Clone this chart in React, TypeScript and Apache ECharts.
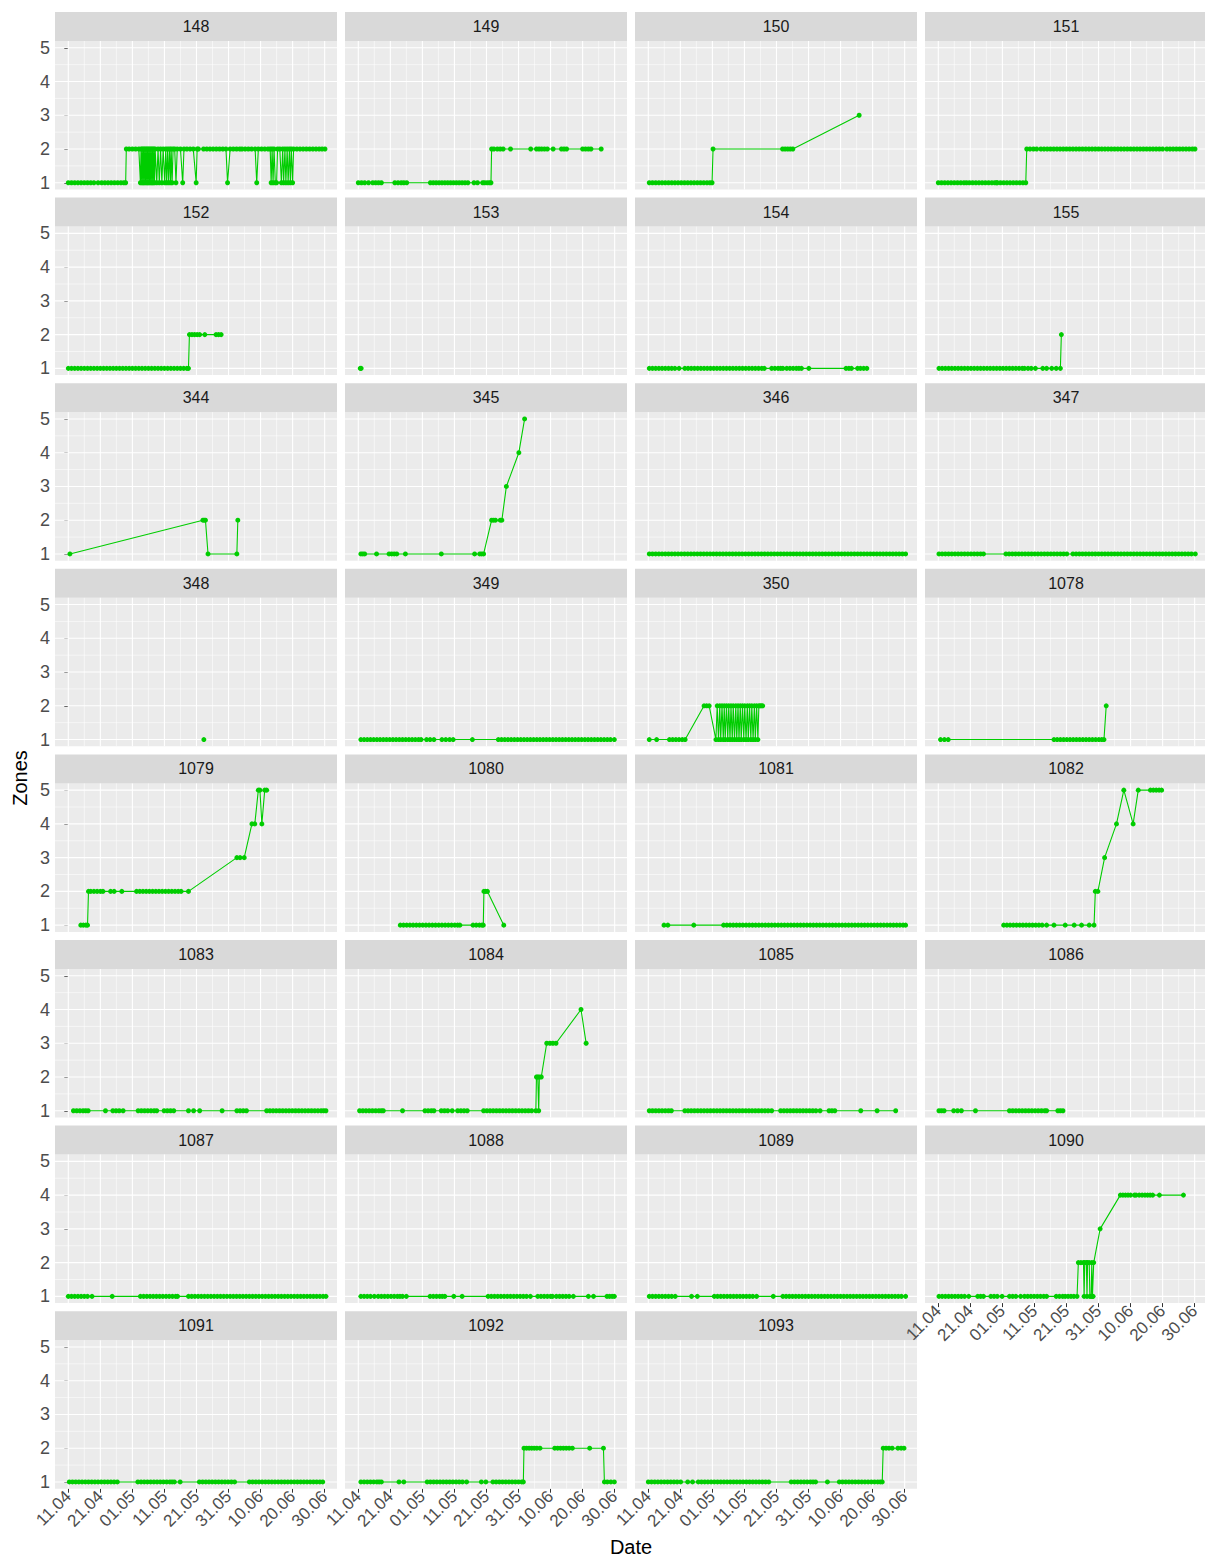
import React, { useEffect, useRef } from 'react';
import * as echarts from 'echarts';

// x values are days counted from 11.04 (day 0); y values are zones.
const PANEL_IDS = ['148', '149', '150', '151', '152', '153', '154', '155', '344', '345', '346', '347', '348', '349', '350', '1078', '1079', '1080', '1081', '1082', '1083', '1084', '1085', '1086', '1087', '1088', '1089', '1090', '1091', '1092', '1093'];
const TICK_DAYS = [0, 10, 20, 30, 40, 50, 60, 70, 80];
const TICK_LABELS = ['11.04', '21.04', '01.05', '11.05', '21.05', '31.05', '10.06', '20.06', '30.06'];
const MINOR_DAYS = [5, 15, 25, 35, 45, 55, 65, 75];
const ZONE_TICKS = [1, 2, 3, 4, 5];
const ZONE_MINOR = [1.5, 2.5, 3.5, 4.5];

type P = [number, number][];

const P148: P = [[0,1],[1,1],[2,1],[3,1],[4,1],[5,1],[6,1],[7,1],[8,1],[9.3,1],
[10.4,1],[11.4,1],[12.4,1],[13.4,1],[14.4,1],[15.4,1],[16.4,1],[17.3,1],[17.9,1],
[18.1,2],[19,2],[20,2],[21,2],[22,2],
[22.5,1],[22.7,2],[22.9,1],[23.1,2],[23.3,1],[23.5,2],[23.7,1],[23.9,2],[24.1,1],[24.3,2],[24.5,1],[24.7,2],[24.9,1],[25.1,2],[25.3,1],[25.5,2],[25.7,1],[25.9,2],[26.1,1],[26.3,2],[26.5,1],[26.7,2],[26.9,1],[27.1,2],
[27.6,1],[28,2],[28.4,1],[28.8,2],[29.2,1],[29.6,2],[30.1,1],[30.4,2],[30.7,1],[31,2],[31.3,1],[31.6,2],[31.9,1],[32.1,2],[32.4,1],[32.7,2],
[33.2,2],[33.6,1],[34,2],[35,2],[35.7,1],[36.1,2],[37,2],[38,2],[39,2],[39.9,1],[40.2,2],[40.6,2],
[42.2,2],[43.2,2],[44.2,2],[45.2,2],[46.2,2],[47.2,2],[48.2,2],[49.2,2],[49.7,1],[50.5,2],[51.5,2],[52.5,2],[53.5,2],
[54.2,2],[55.2,2],[56.2,2],[57.2,2],[58.3,2],[58.8,1],[59.3,2],[60.3,2],[61.3,2],[62.3,2],[63,2],[63.3,1],[63.6,2],[63.9,1],[64.2,2],[64.6,1],[65,1],[65.3,2],[66,2],[66.5,1],[66.9,2],[67.2,1],[67.6,2],[67.9,1],[68.3,2],[68.6,1],[69,2],[69.3,1],[69.6,2],[70,1],[70.3,2],[71.3,2],[72.3,2],[73.3,2],[74.3,2],[75.3,2],[76.3,2],[77.3,2],[78.3,2],[79.2,2],[80.1,2]];

const P149: P = [[0,1],[1,1],[2,1],[3.2,1],[4.5,1],[5.4,1],[6.3,1],[7.2,1],[11.4,1],[12.4,1],[13.4,1],[14.2,1],[15.1,1],[22.5,1],[23.4,1],[24.3,1],[25.2,1],[26.1,1],[27,1],[27.9,1],[28.8,1],[29.7,1],[30.6,1],[31.5,1],[32.4,1],[33.3,1],[34.2,1],[36.1,1],[37.2,1],[38.8,1],[39.4,1],[40.2,1],[40.9,1],[41.4,1],[41.6,2],[42.3,2],[43.4,2],[44.3,2],[45.2,2],[47.5,2],[53.8,2],[55.6,2],[56.4,2],[57.2,2],[58.1,2],[59,2],[60.8,2],[63.4,2],[64.2,2],[65,2],[70,2],[70.9,2],[71.8,2],[72.6,2],[75.8,2]];

const P150: P = [[0.3,1],[1.3,1],[2.3,1],[3.3,1],[4.3,1],[5.3,1],[6.3,1],[7.3,1],[8.3,1],[9.3,1],[10.3,1],[11.3,1],[12.3,1],[13.3,1],[14.3,1],[15.3,1],[16.3,1],[17.3,1],[18.3,1],[19.2,1],[19.9,1],[20.2,2],[41.9,2],[42.7,2],[43.5,2],[44.3,2],[45.1,2],[65.8,3]];

const P151: P = [[0,1],[1,1],[2,1],[3,1],[4,1],[5,1],[6,1],[7,1],[8,1],[8.8,1],[9.7,1],[10.7,1],[11.7,1],[12.7,1],[13.7,1],[14.7,1],[15.7,1],[16.7,1],[17.6,1],[18.2,1],[18.4,1],[19.4,1],[20.4,1],[21.4,1],[22.4,1],[23.4,1],[24.4,1],[25.4,1],[26.4,1],[27.3,1],
[27.6,2],[28.6,2],[29.7,2],[30.7,2],[32,2],[33,2],[34,2],[35,2],[36,2],[37,2],[38,2],[39,2],[40,2],[41,2],[42,2],[43,2],[44,2],[45,2],[46,2],[47,2],[48,2],[49,2],[50,2],[51,2],[52,2],[53,2],[54,2],[55,2],[56,2],[57,2],[58,2],[59,2],[60,2],[61,2],[62,2],[63,2],[64,2],[65,2],[66,2],[67,2],[68,2],[69,2],[70,2],[71.3,2],[72.3,2],[73.3,2],[74.3,2],[75.3,2],[76.3,2],[77.3,2],[78.3,2],[79.3,2],[80.1,2]];

const P152: P = [[0,1],[1,1],[2,1],[3,1],[4,1],[5,1],[6,1],[7,1],[8,1],[9,1],[10,1],[11,1],[12,1],[13,1],[14,1],[15,1],[16,1],[17,1],[18,1],[19,1],[20,1],[21,1],[22,1],[23,1],[24,1],[25,1],[26,1],[27,1],[28,1],[29,1],[30,1],[31,1],[32,1],[33,1],[34,1],[35,1],[36,1],[37,1],[37.5,1],[37.8,2],[38.6,2],[39.4,2],[40.2,2],[41,2],[42.6,2],[46.1,2],[46.9,2],[47.7,2]];

const P153: P = [[0.6,1],[0.9,1]];

const P154: P = [[0.3,1],[1.3,1],[2.3,1],[3.3,1],[4.3,1],[5.3,1],[6.3,1],[7.3,1],[8.3,1],[9.6,1],[11.4,1],[12.4,1],[13.4,1],[14.4,1],[15.4,1],[16.4,1],[17.4,1],[18.4,1],[19.4,1],[20.4,1],[21.4,1],[22.4,1],[23.4,1],[24.4,1],[25.4,1],[26.4,1],[27.4,1],[28.4,1],[29.4,1],[30.4,1],[31.4,1],[32.4,1],[33.4,1],[34.4,1],[35.4,1],[36.2,1],[38.5,1],[39.5,1],[40.5,1],[41.3,1],[42,1],[43.2,1],[44.2,1],[45.2,1],[46.2,1],[47,1],[47.8,1],[50.1,1],[61.7,1],[62.6,1],[63.4,1],[65.3,1],[66.2,1],[67.2,1],[68.2,1]];

const P155: P = [[0.2,1],[1.2,1],[2.2,1],[3.2,1],[4.2,1],[5.2,1],[6.2,1],[7.2,1],[8.2,1],[9.2,1],[10.2,1],[11.2,1],[12.2,1],[13.2,1],[14.2,1],[15.2,1],[16.2,1],[17.2,1],[18.2,1],[19.2,1],[20.2,1],[21.2,1],[22.2,1],[23.2,1],[24.2,1],[25.2,1],[26.2,1],[26.9,1],[28,1],[29,1],[30.3,1],[32.6,1],[33.8,1],[35.4,1],[36.8,1],[38.1,1],[38.4,2]];

const P344: P = [[0.5,1],[42,2],[42.4,2],[42.8,2],[43.6,1],[52.6,1],[52.9,2]];

const P345: P = [[0.8,1],[1.4,1],[2,1],[5.7,1],[9.6,1],[10.4,1],[11.2,1],[12,1],[14.7,1],[25.9,1],[36.3,1],[37.9,1],[38.5,1],[39.1,1],[41.6,2],[42.2,2],[42.8,2],[44.3,2],[44.8,2],[46.2,3],[50.1,4],[51.9,5]];

const P346: P = [[0.3,1],[1.3,1],[2.3,1],[3.3,1],[4.3,1],[5.3,1],[6.3,1],[7.3,1],[8.3,1],[9.3,1],[10.3,1],[11.3,1],[12.3,1],[13.3,1],[14.3,1],[15.3,1],[16.3,1],[17.3,1],[18.3,1],[19.3,1],[20.3,1],[21.3,1],[22.3,1],[23.3,1],[24.3,1],[25.3,1],[26.3,1],[27.3,1],[28.3,1],[29.3,1],[30.3,1],[31.3,1],[32.3,1],[33.3,1],[34.3,1],[35.3,1],[36.3,1],[37.3,1],[38.3,1],[39.3,1],[40.3,1],[41.3,1],[42.3,1],[43.3,1],[44.3,1],[45.3,1],[46.3,1],[47.3,1],[48.3,1],[49.3,1],[50.3,1],[51.3,1],[52.3,1],[53.3,1],[54.3,1],[55.3,1],[56.3,1],[57.3,1],[58.3,1],[59.3,1],[60.3,1],[61.3,1],[62.3,1],[63.3,1],[64.3,1],[65.3,1],[66.3,1],[67.3,1],[68.3,1],[69.3,1],[70.3,1],[71.3,1],[72.3,1],[73.3,1],[74.3,1],[75.3,1],[76.3,1],[77.3,1],[78.3,1],[79.3,1],[80.3,1]];

const P347: P = [[0.2,1],[1.2,1],[2.2,1],[3.2,1],[4.2,1],[5.2,1],[6.2,1],[7.2,1],[8.2,1],[9.2,1],[10.2,1],[11.2,1],[12.2,1],[13.2,1],[14.1,1],[21.1,1],[22.1,1],[23.1,1],[24.1,1],[25.1,1],[26.1,1],[27.1,1],[28.1,1],[29.1,1],[30.1,1],[31.1,1],[32.1,1],[33.1,1],[34.1,1],[35.1,1],[36.1,1],[37.1,1],[38.1,1],[39.1,1],[40.1,1],[42,1],[43,1],[44,1],[45,1],[46,1],[47,1],[48,1],[49,1],[50,1],[51,1],[52,1],[53,1],[54,1],[55,1],[56,1],[57,1],[58,1],[59,1],[60,1],[61,1],[62,1],[63,1],[64,1],[65,1],[66,1],[67,1],[68,1],[69,1],[70,1],[71,1],[72,1],[73,1],[74,1],[75,1],[76,1],[77,1],[78,1],[79,1],[80.2,1]];

const P348: P = [[42.3,1]];

const P349: P = [[0.8,1],[1.8,1],[2.8,1],[3.8,1],[4.8,1],[5.8,1],[6.8,1],[7.8,1],[8.8,1],[9.8,1],[10.8,1],[11.8,1],[12.8,1],[13.8,1],[14.8,1],[15.8,1],[16.8,1],[17.8,1],[18.8,1],[19.6,1],[21.3,1],[22.4,1],[23.6,1],[26.1,1],[27.3,1],[28.5,1],[29.6,1],[35.6,1],[43.7,1],[44.7,1],[45.7,1],[46.7,1],[47.7,1],[48.7,1],[49.7,1],[50.7,1],[51.7,1],[52.7,1],[53.7,1],[54.7,1],[55.7,1],[56.7,1],[57.7,1],[58.7,1],[59.7,1],[60.7,1],[61.7,1],[62.7,1],[63.7,1],[64.7,1],[65.7,1],[66.7,1],[67.7,1],[68.7,1],[69.7,1],[70.7,1],[71.7,1],[72.7,1],[73.7,1],[74.7,1],[75.7,1],[76.7,1],[77.7,1],[78.7,1],[79.9,1]];

const P350: P = [[0.3,1],[2.6,1],[6.6,1],[7.6,1],[8.6,1],[9.6,1],[10.6,1],[11.5,1],[17.4,2],[18.2,2],[19,2],[21.1,1],
[21.5,2],[21.9,1],[22.3,2],[22.6,1],[23,2],[23.4,1],[23.7,2],[24,1],[24.4,2],[24.8,1],[25.1,2],[25.5,1],[25.8,2],[26.2,1],[26.5,2],[26.9,1],[27.3,2],[27.6,1],[28,2],[28.3,1],[28.7,2],[29,1],[29.4,2],[29.8,1],[30.1,2],[30.5,1],[30.9,2],[31.2,1],[31.6,2],[32,1],[32.3,2],[32.7,1],[33.1,2],[33.4,1],[33.8,2],[34.2,1],[34.5,2],[34.9,2],[35.3,2],[35.7,2]];

const P1078: P = [[0.7,1],[1.9,1],[3.1,1],[36.1,1],[37.1,1],[38.1,1],[39.1,1],[40.1,1],[41.1,1],[42.1,1],[43.1,1],[44.1,1],[45.1,1],[46.1,1],[47.1,1],[48.1,1],[49.1,1],[50.1,1],[51,1],[51.7,1],[52.4,2]];

const P1079: P = [[3.9,1],[4.7,1],[5.5,1],[6,1],[6.3,2],[7,2],[8,2],[9,2],[10,2],[10.8,2],[13.2,2],[14.3,2],[16.7,2],[21.3,2],[22.3,2],[23.3,2],[24.3,2],[25.3,2],[26.3,2],[27.3,2],[28.3,2],[29.3,2],[30.3,2],[31.3,2],[32.3,2],[33.3,2],[34.3,2],[35.2,2],[37.5,2],[52.6,3],[53.6,3],[54.9,3],[57.3,4],[58.2,4],[59.3,5],[59.8,5],[60.4,4],[61.3,5],[61.9,5]];

const P1080: P = [[13.1,1],[14.1,1],[15.1,1],[16.1,1],[17.1,1],[18.1,1],[19.1,1],[20.1,1],[21.1,1],[22.1,1],[23.1,1],[24.1,1],[25.1,1],[26.1,1],[27.1,1],[28.1,1],[29.1,1],[30.1,1],[31,1],[31.7,1],[35.8,1],[36.8,1],[37.8,1],[38.6,1],[39,1],[39.2,2],[39.7,2],[40.3,2],[45.4,1]];

const P1081: P = [[4.9,1],[6.1,1],[14.2,1],[23.5,1],[24.5,1],[25.5,1],[26.5,1],[27.5,1],[28.5,1],[29.5,1],[30.5,1],[31.5,1],[32.5,1],[33.5,1],[34.5,1],[35.5,1],[36.5,1],[37.5,1],[38.5,1],[39.5,1],[40.5,1],[41.5,1],[42.5,1],[43.5,1],[44.5,1],[45.5,1],[46.5,1],[47.5,1],[48.5,1],[49.5,1],[50.5,1],[51.5,1],[52.5,1],[53.5,1],[54.5,1],[55.5,1],[56.5,1],[57.5,1],[58.5,1],[59.5,1],[60.5,1],[61.5,1],[62.5,1],[63.5,1],[64.5,1],[65.5,1],[66.5,1],[67.5,1],[68.5,1],[69.5,1],[70.5,1],[71.5,1],[72.5,1],[73.5,1],[74.5,1],[75.5,1],[76.5,1],[77.5,1],[78.5,1],[79.5,1],[80.3,1]];

const P1082: P = [[20.4,1],[21.4,1],[22.4,1],[23.4,1],[24.4,1],[25.4,1],[26.4,1],[27.4,1],[28.4,1],[29.4,1],[30.4,1],[31.4,1],[32.4,1],[33.8,1],[36.1,1],[39.6,1],[42.4,1],[44.7,1],[47.1,1],[48.6,1],[49,2],[49.8,2],[51.9,3],[55.6,4],[57.9,5],[60.8,4],[62.4,5],[66.2,5],[67.1,5],[68,5],[68.9,5],[69.7,5]];

const P1083: P = [[1.6,1],[2.6,1],[3.6,1],[4.6,1],[5.4,1],[6.2,1],[11.6,1],[13.9,1],[14.9,1],[15.9,1],[17.1,1],[21.8,1],[22.8,1],[23.8,1],[24.8,1],[25.8,1],[26.8,1],[27.6,1],[29.9,1],[30.9,1],[31.9,1],[32.9,1],[37.5,1],[39.1,1],[41,1],[48,1],[52.6,1],[53.6,1],[54.6,1],[55.6,1],[61.9,1],[62.9,1],[63.9,1],[64.9,1],[65.9,1],[66.9,1],[67.9,1],[68.9,1],[69.9,1],[70.9,1],[71.9,1],[72.9,1],[73.9,1],[74.9,1],[75.9,1],[76.9,1],[77.9,1],[78.9,1],[79.7,1],[80.4,1]];

const P1084: P = [[0.4,1],[1.4,1],[2.4,1],[3.4,1],[4.4,1],[5.4,1],[6.4,1],[7.2,1],[7.8,1],[13.8,1],[20.8,1],[21.8,1],[22.8,1],[23.6,1],[25.9,1],[26.9,1],[27.9,1],[29.3,1],[31,1],[32,1],[33,1],[34,1],[39.1,1],[40.1,1],[41.1,1],[42.1,1],[43.1,1],[44.1,1],[45.1,1],[46.1,1],[47.1,1],[48.1,1],[49.1,1],[50.1,1],[51.1,1],[52.1,1],[53.1,1],[54.1,1],[55.4,1],[55.6,2],[56,2],[56.3,1],[56.5,2],[57.1,2],[58.8,3],[59.8,3],[60.7,3],[61.7,3],[69.5,4],[71.1,3]];

const P1085: P = [[0.3,1],[1.3,1],[2.3,1],[3.3,1],[4.3,1],[5.3,1],[6.3,1],[7.2,1],[11.4,1],[12.4,1],[13.4,1],[14.4,1],[15.4,1],[16.4,1],[17.4,1],[18.4,1],[19.4,1],[20.4,1],[21.4,1],[22.4,1],[23.4,1],[24.4,1],[25.4,1],[26.4,1],[27.4,1],[28.4,1],[29.4,1],[30.4,1],[31.4,1],[32.4,1],[33.4,1],[34.4,1],[35.4,1],[36.4,1],[37.4,1],[38.5,1],[41.3,1],[42.3,1],[43.3,1],[44.3,1],[45.3,1],[46.3,1],[47.3,1],[48.3,1],[49.3,1],[50.3,1],[51.3,1],[52.3,1],[53.6,1],[56.4,1],[57.3,1],[58.2,1],[66.3,1],[71.4,1],[77.2,1]];

const P1086: P = [[0.2,1],[1,1],[1.8,1],[4.8,1],[6,1],[7.2,1],[11.6,1],[22.2,1],[23.2,1],[24.2,1],[25.2,1],[26.2,1],[27.2,1],[28.2,1],[29.2,1],[30.2,1],[31.2,1],[32.2,1],[33.2,1],[33.8,1],[37.3,1],[38.1,1],[38.9,1]];

const P1087: P = [[0,1],[1,1],[2,1],[3,1],[4,1],[5,1],[6,1],[7.4,1],[13.7,1],[22.5,1],[23.5,1],[24.5,1],[25.5,1],[26.5,1],[27.5,1],[28.5,1],[29.5,1],[30.5,1],[31.5,1],[32.5,1],[33.5,1],[34.1,1],[37.5,1],[38.5,1],[39.5,1],[40.5,1],[41.5,1],[42.5,1],[43.5,1],[44.5,1],[45.5,1],[46.5,1],[47.5,1],[48.5,1],[49.5,1],[50.5,1],[51.5,1],[52.5,1],[53.5,1],[54.5,1],[55.5,1],[56.5,1],[57.5,1],[58.5,1],[59.5,1],[60.5,1],[61.5,1],[62.5,1],[63.5,1],[64.5,1],[65.5,1],[66.5,1],[67.5,1],[68.5,1],[69.5,1],[70.5,1],[71.5,1],[72.5,1],[73.5,1],[74.5,1],[75.5,1],[76.5,1],[77.5,1],[78.5,1],[79.5,1],[80.4,1]];

const P1088: P = [[0.8,1],[1.8,1],[2.8,1],[3.8,1],[5,1],[6.2,1],[7.2,1],[8.2,1],[9.2,1],[10.2,1],[11.2,1],[12.2,1],[13,1],[13.8,1],[15,1],[22.4,1],[23.4,1],[24.4,1],[25.4,1],[26.2,1],[27,1],[29.8,1],[32.4,1],[40.5,1],[41.5,1],[42.5,1],[43.5,1],[44.5,1],[45.5,1],[46.5,1],[47.5,1],[48.5,1],[49.5,1],[50.5,1],[51.5,1],[52.5,1],[53.7,1],[56,1],[57,1],[58,1],[59,1],[60,1],[60.6,1],[61.8,1],[62.8,1],[63.8,1],[64.8,1],[65.8,1],[67.1,1],[71.8,1],[73.4,1],[77.6,1],[78.4,1],[79.2,1],[79.9,1]];

const P1089: P = [[0.3,1],[1.3,1],[2.3,1],[3.3,1],[4.3,1],[5.3,1],[6.3,1],[7.3,1],[8.4,1],[13.5,1],[15.3,1],[20.6,1],[21.6,1],[22.6,1],[23.6,1],[24.6,1],[25.6,1],[26.6,1],[27.6,1],[28.6,1],[29.6,1],[30.6,1],[31.6,1],[32.6,1],[33.8,1],[39,1],[42,1],[43,1],[44,1],[45,1],[46,1],[47,1],[48,1],[49,1],[50,1],[51,1],[52,1],[53,1],[54,1],[55,1],[56,1],[57,1],[58,1],[59,1],[60,1],[61,1],[62,1],[63,1],[64,1],[65,1],[66,1],[67,1],[68,1],[69,1],[70,1],[71,1],[72,1],[73,1],[74,1],[75,1],[76,1],[77,1],[78,1],[79,1],[80.3,1]];

const P1090: P = [[0.2,1],[1.2,1],[2.2,1],[3.2,1],[4.2,1],[5.2,1],[6.2,1],[7.2,1],[8.2,1],[9.5,1],[12.3,1],[13.2,1],[14.1,1],[16.4,1],[17.4,1],[18.4,1],[19.9,1],[22.2,1],[23.2,1],[24.2,1],[25.7,1],[26.9,1],[27.9,1],[28.9,1],[29.9,1],[30.9,1],[31.9,1],[32.9,1],[33.8,1],[36.8,1],[37.8,1],[38.8,1],[39.6,1],[40.5,1],[41.4,1],[42.3,1],[43.3,1],
[43.7,2],[44.5,2],[45.3,2],[45.5,1],[45.7,2],[46.2,2],[46.4,1],[46.6,2],[47.1,2],[47.3,1],[47.7,1],[47.9,2],[48.1,1],[48.3,1],[48.5,2],[50.5,3],[56.8,4],[57.6,4],[58.4,4],[59.2,4],[60,4],[61.2,4],[61.7,4],[62.7,4],[63.6,4],[64.5,4],[65.3,4],[66.1,4],[66.9,4],[69,4],[76.5,4]];

const P1091: P = [[0.3,1],[1.3,1],[2.3,1],[3.3,1],[4.3,1],[5.3,1],[6.3,1],[7.3,1],[8.3,1],[9.3,1],[10.3,1],[11.3,1],[12.3,1],[13.3,1],[14.3,1],[15.3,1],[21.7,1],[22.7,1],[23.7,1],[24.7,1],[25.7,1],[26.7,1],[27.7,1],[28.7,1],[29.7,1],[30.7,1],[31.7,1],[32.4,1],[33.1,1],[34.9,1],[40.9,1],[41.9,1],[42.9,1],[43.9,1],[44.9,1],[45.9,1],[46.9,1],[47.9,1],[48.9,1],[49.9,1],[50.9,1],[51.9,1],[56.5,1],[57.5,1],[58.5,1],[59.5,1],[60.5,1],[61.5,1],[62.5,1],[63.5,1],[64.5,1],[65.5,1],[66.5,1],[67.5,1],[68.5,1],[69.5,1],[70.5,1],[71.5,1],[72.5,1],[73.5,1],[74.5,1],[75.5,1],[76.5,1],[77.5,1],[78.5,1],[79.4,1]];

const P1092: P = [[0.8,1],[1.8,1],[2.8,1],[3.8,1],[4.8,1],[5.8,1],[6.5,1],[7.2,1],[12.7,1],[14.2,1],[21.5,1],[22.5,1],[23.5,1],[24.5,1],[25.5,1],[26.5,1],[27.5,1],[28.5,1],[29.5,1],[30.5,1],[31.5,1],[32.5,1],[33.8,1],[38.4,1],[39.8,1],[42,1],[43,1],[44,1],[45,1],[46,1],[47,1],[48,1],[49,1],[50,1],[51,1],[51.5,1],[51.7,2],[52.5,2],[53.3,2],[54.1,2],[54.9,2],[55.7,2],[56.7,2],[61.3,2],[62.2,2],[63.1,2],[64,2],[64.9,2],[65.8,2],[66.8,2],[72.2,2],[76.5,2],[76.8,1],[77.7,1],[78.8,1],[79.9,1]];

const P1093: P = [[0,1],[1,1],[2,1],[3,1],[4,1],[5,1],[6,1],[7,1],[8,1],[9,1],[10.1,1],[12.3,1],[13.8,1],[15.6,1],[16.6,1],[17.6,1],[18.6,1],[19.6,1],[20.6,1],[21.6,1],[22.6,1],[23.6,1],[24.6,1],[25.6,1],[26.6,1],[27.6,1],[28.6,1],[29.6,1],[30.6,1],[31.6,1],[32.6,1],[33.6,1],[34.6,1],[35.6,1],[36.6,1],[37.6,1],[44.6,1],[45.6,1],[46.6,1],[47.6,1],[48.6,1],[49.6,1],[50.6,1],[51.4,1],[52.2,1],[55.9,1],[59.6,1],[60.6,1],[61.6,1],[62.6,1],[63.6,1],[64.6,1],[65.6,1],[66.6,1],[67.6,1],[68.6,1],[69.6,1],[70.6,1],[71.6,1],[72.4,1],[73,1],[73.3,2],[74.2,2],[75.1,2],[76.1,2],[77.9,2],[78.9,2],[79.8,2]];

const PANEL_DATA: P[] = [P148, P149, P150, P151, P152, P153, P154, P155, P344, P345, P346, P347, P348, P349, P350, P1078, P1079, P1080, P1081, P1082, P1083, P1084, P1085, P1086, P1087, P1088, P1089, P1090, P1091, P1092, P1093];

const X_MIN = -4.15;
const X_MAX = 83.85;
const Y_MIN = 0.8;
const Y_MAX = 5.2;

const FONT = '"Liberation Sans", Arial, Helvetica, sans-serif';
const LINE_COLOR = '#00CD00';

function gridRenderer(params: any, api: any) {
  const cs = params.coordSys;
  const kids: any[] = [];
  const vline = (v: number, w: number) => {
    const x = api.coord([v, Y_MIN])[0];
    kids.push({ type: 'line', shape: { x1: x, y1: cs.y, x2: x, y2: cs.y + cs.height }, style: { stroke: '#FFFFFF', lineWidth: w } });
  };
  const hline = (v: number, w: number) => {
    const y = api.coord([X_MIN, v])[1];
    kids.push({ type: 'line', shape: { x1: cs.x, y1: y, x2: cs.x + cs.width, y2: y }, style: { stroke: '#FFFFFF', lineWidth: w } });
  };
  MINOR_DAYS.forEach((v) => vline(v, 0.55));
  ZONE_MINOR.forEach((v) => hline(v, 0.55));
  TICK_DAYS.forEach((v) => vline(v, 1.1));
  ZONE_TICKS.forEach((v) => hline(v, 1.1));
  return { type: 'group', children: kids };
}

function buildOption() {
  const grids: any[] = [];
  const xAxes: any[] = [];
  const yAxes: any[] = [];
  const series: any[] = [];
  const graphics: any[] = [];
  const PW = 282;
  const PH = 148.5;
  const STRIP = 29;
  PANEL_IDS.forEach((id, i) => {
    const r = Math.floor(i / 4);
    const c = i % 4;
    const left = 55 + 290 * c;
    const top = 41 + 185.6 * r;
    grids.push({ left, top, width: PW, height: PH, show: true, backgroundColor: '#EBEBEB', borderWidth: 0, containLabel: false, outerBoundsMode: 'none' });
    const showX = r === 7 || (r === 6 && c === 3);
    const showY = c === 0;
    xAxes.push({
      type: 'value', gridIndex: i, min: X_MIN, max: X_MAX,
      axisLine: { show: false }, splitLine: { show: false }, minorSplitLine: { show: false },
      axisTick: { show: showX, customValues: TICK_DAYS, length: 4, lineStyle: { color: '#333333', width: 1 } },
      axisLabel: {
        show: showX, customValues: TICK_DAYS, rotate: 45, margin: 5, fontSize: 17, color: '#4D4D4D', fontFamily: FONT,
        formatter: (v: number) => { const k = TICK_DAYS.indexOf(Math.round(v)); return k >= 0 ? TICK_LABELS[k] : ''; },
      },
    });
    yAxes.push({
      type: 'value', gridIndex: i, min: Y_MIN, max: Y_MAX,
      axisLine: { show: false }, splitLine: { show: false }, minorSplitLine: { show: false },
      axisTick: { show: showY, customValues: ZONE_TICKS, length: 4, lineStyle: { color: '#333333', width: 1 } },
      axisLabel: { show: showY, customValues: ZONE_TICKS, margin: 5, fontSize: 18, color: '#4D4D4D', fontFamily: FONT, formatter: (v: number) => String(Math.round(v)) },
    });
    series.push({
      type: 'custom', xAxisIndex: i, yAxisIndex: i, z: 1, silent: true, clip: false,
      data: [[X_MIN, Y_MIN]], renderItem: gridRenderer,
    });
    series.push({
      type: 'line', xAxisIndex: i, yAxisIndex: i, z: 3, silent: true, clip: true,
      data: PANEL_DATA[i], symbol: 'circle', symbolSize: 5, showSymbol: true, showAllSymbol: true,
      lineStyle: { color: LINE_COLOR, width: 1.1 }, itemStyle: { color: LINE_COLOR, borderWidth: 0 },
    });
    graphics.push({ type: 'rect', silent: true, shape: { x: left, y: top - STRIP, width: PW, height: STRIP }, style: { fill: '#D9D9D9' } });
    graphics.push({
      type: 'text', silent: true, x: left + PW / 2, y: top - STRIP / 2,
      style: { text: id, fill: '#1A1A1A', fontSize: 16, fontFamily: FONT, textAlign: 'center', textVerticalAlign: 'middle', align: 'center', verticalAlign: 'middle' },
    });
  });
  graphics.push({
    type: 'text', silent: true, x: 20, y: 778, rotation: Math.PI / 2,
    style: { text: 'Zones', fill: '#000000', fontSize: 20, fontFamily: FONT, textAlign: 'center', textVerticalAlign: 'middle', align: 'center', verticalAlign: 'middle' },
  });
  graphics.push({
    type: 'text', silent: true, x: 631, y: 1547,
    style: { text: 'Date', fill: '#000000', fontSize: 20, fontFamily: FONT, textAlign: 'center', textVerticalAlign: 'middle', align: 'center', verticalAlign: 'middle' },
  });
  return {
    animation: false,
    backgroundColor: '#FFFFFF',
    grid: grids,
    xAxis: xAxes,
    yAxis: yAxes,
    series,
    graphic: { elements: graphics },
  };
}

export default function App() {
  const ref = useRef<HTMLDivElement>(null);
  useEffect(() => {
    if (!ref.current) return;
    const chart = echarts.init(ref.current, undefined, { renderer: 'svg' });
    chart.setOption(buildOption() as any);
    return () => chart.dispose();
  }, []);
  return <div ref={ref} style={{ position: 'absolute', left: 0, top: 0, width: 1205, height: 1557 }} />;
}
